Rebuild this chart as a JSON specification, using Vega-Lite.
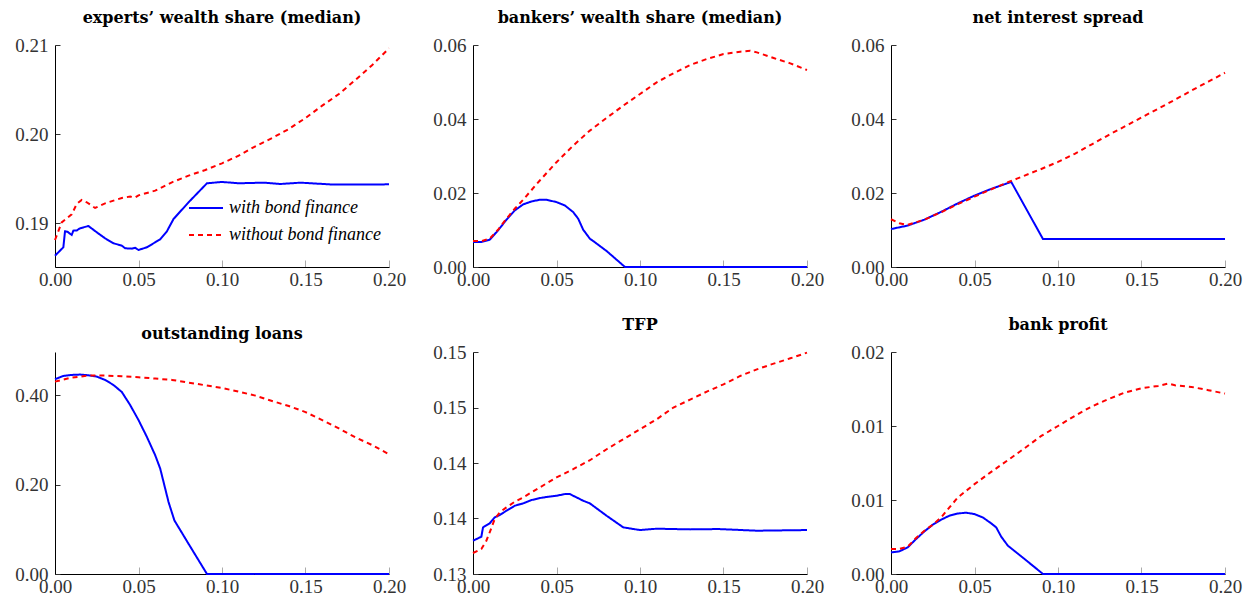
{
  "$schema": "https://vega.github.io/schema/vega-lite/v6.json",
  "padding": {"left": 14, "top": 10, "right": 5, "bottom": 5},
  "background": "white",
  "columns": 3,
  "spacing": {"row": 85, "column": 84},
  "bounds": "flush",
  "resolve": {"scale": {"color": "independent", "strokeDash": "independent"}, "legend": {"color": "independent", "strokeDash": "independent"}},
  "datasets": {
    "p1": [
      {"x": 0, "y": 0.18637, "s": "with bond finance"},
      {"x": 0.005, "y": 0.18731, "s": "with bond finance"},
      {"x": 0.006, "y": 0.1891, "s": "with bond finance"},
      {"x": 0.0075, "y": 0.18905, "s": "with bond finance"},
      {"x": 0.01, "y": 0.18869, "s": "with bond finance"},
      {"x": 0.011, "y": 0.18918, "s": "with bond finance"},
      {"x": 0.013, "y": 0.1892, "s": "with bond finance"},
      {"x": 0.015, "y": 0.18944, "s": "with bond finance"},
      {"x": 0.02, "y": 0.1897, "s": "with bond finance"},
      {"x": 0.025, "y": 0.18899, "s": "with bond finance"},
      {"x": 0.03, "y": 0.18832, "s": "with bond finance"},
      {"x": 0.035, "y": 0.18776, "s": "with bond finance"},
      {"x": 0.04, "y": 0.1875, "s": "with bond finance"},
      {"x": 0.042, "y": 0.1872, "s": "with bond finance"},
      {"x": 0.046, "y": 0.18716, "s": "with bond finance"},
      {"x": 0.048, "y": 0.18725, "s": "with bond finance"},
      {"x": 0.05, "y": 0.18701, "s": "with bond finance"},
      {"x": 0.055, "y": 0.18731, "s": "with bond finance"},
      {"x": 0.06, "y": 0.18787, "s": "with bond finance"},
      {"x": 0.063, "y": 0.1882, "s": "with bond finance"},
      {"x": 0.067, "y": 0.1891, "s": "with bond finance"},
      {"x": 0.071, "y": 0.19049, "s": "with bond finance"},
      {"x": 0.08, "y": 0.19236, "s": "with bond finance"},
      {"x": 0.091, "y": 0.19449, "s": "with bond finance"},
      {"x": 0.1, "y": 0.19464, "s": "with bond finance"},
      {"x": 0.11, "y": 0.19449, "s": "with bond finance"},
      {"x": 0.125, "y": 0.19456, "s": "with bond finance"},
      {"x": 0.135, "y": 0.19441, "s": "with bond finance"},
      {"x": 0.147, "y": 0.19456, "s": "with bond finance"},
      {"x": 0.167, "y": 0.19434, "s": "with bond finance"},
      {"x": 0.2, "y": 0.19437, "s": "with bond finance"},
      {"x": 0, "y": 0.18813, "s": "without bond finance"},
      {"x": 0.004, "y": 0.1901, "s": "without bond finance"},
      {"x": 0.01, "y": 0.191, "s": "without bond finance"},
      {"x": 0.013, "y": 0.19217, "s": "without bond finance"},
      {"x": 0.016, "y": 0.19262, "s": "without bond finance"},
      {"x": 0.019, "y": 0.19236, "s": "without bond finance"},
      {"x": 0.024, "y": 0.19172, "s": "without bond finance"},
      {"x": 0.03, "y": 0.19224, "s": "without bond finance"},
      {"x": 0.04, "y": 0.19284, "s": "without bond finance"},
      {"x": 0.045, "y": 0.193, "s": "without bond finance"},
      {"x": 0.048, "y": 0.1929, "s": "without bond finance"},
      {"x": 0.05, "y": 0.19314, "s": "without bond finance"},
      {"x": 0.06, "y": 0.19366, "s": "without bond finance"},
      {"x": 0.07, "y": 0.1946, "s": "without bond finance"},
      {"x": 0.08, "y": 0.19535, "s": "without bond finance"},
      {"x": 0.09, "y": 0.19598, "s": "without bond finance"},
      {"x": 0.1, "y": 0.19673, "s": "without bond finance"},
      {"x": 0.11, "y": 0.19759, "s": "without bond finance"},
      {"x": 0.12, "y": 0.19864, "s": "without bond finance"},
      {"x": 0.13, "y": 0.19957, "s": "without bond finance"},
      {"x": 0.14, "y": 0.20058, "s": "without bond finance"},
      {"x": 0.15, "y": 0.20181, "s": "without bond finance"},
      {"x": 0.16, "y": 0.2032, "s": "without bond finance"},
      {"x": 0.17, "y": 0.2045, "s": "without bond finance"},
      {"x": 0.18, "y": 0.2061, "s": "without bond finance"},
      {"x": 0.19, "y": 0.20776, "s": "without bond finance"},
      {"x": 0.2, "y": 0.20963, "s": "without bond finance"}
    ],
    "p2": [
      {"x": 0, "y": 0.00674, "s": "with bond finance"},
      {"x": 0.005, "y": 0.00674, "s": "with bond finance"},
      {"x": 0.01, "y": 0.00737, "s": "with bond finance"},
      {"x": 0.015, "y": 0.00989, "s": "with bond finance"},
      {"x": 0.02, "y": 0.01277, "s": "with bond finance"},
      {"x": 0.025, "y": 0.01529, "s": "with bond finance"},
      {"x": 0.03, "y": 0.01691, "s": "with bond finance"},
      {"x": 0.035, "y": 0.01772, "s": "with bond finance"},
      {"x": 0.04, "y": 0.01817, "s": "with bond finance"},
      {"x": 0.044, "y": 0.01817, "s": "with bond finance"},
      {"x": 0.05, "y": 0.01754, "s": "with bond finance"},
      {"x": 0.055, "y": 0.01664, "s": "with bond finance"},
      {"x": 0.06, "y": 0.01484, "s": "with bond finance"},
      {"x": 0.063, "y": 0.01304, "s": "with bond finance"},
      {"x": 0.066, "y": 0.01007, "s": "with bond finance"},
      {"x": 0.07, "y": 0.00764, "s": "with bond finance"},
      {"x": 0.072, "y": 0.00701, "s": "with bond finance"},
      {"x": 0.08, "y": 0.00432, "s": "with bond finance"},
      {"x": 0.091, "y": 0, "s": "with bond finance"},
      {"x": 0.2, "y": 0, "s": "with bond finance"},
      {"x": 0, "y": 0.00701, "s": "without bond finance"},
      {"x": 0.005, "y": 0.007, "s": "without bond finance"},
      {"x": 0.01, "y": 0.00764, "s": "without bond finance"},
      {"x": 0.015, "y": 0.01007, "s": "without bond finance"},
      {"x": 0.02, "y": 0.01304, "s": "without bond finance"},
      {"x": 0.025, "y": 0.01574, "s": "without bond finance"},
      {"x": 0.03, "y": 0.01817, "s": "without bond finance"},
      {"x": 0.04, "y": 0.02338, "s": "without bond finance"},
      {"x": 0.05, "y": 0.02833, "s": "without bond finance"},
      {"x": 0.06, "y": 0.03282, "s": "without bond finance"},
      {"x": 0.07, "y": 0.03687, "s": "without bond finance"},
      {"x": 0.08, "y": 0.04029, "s": "without bond finance"},
      {"x": 0.09, "y": 0.04362, "s": "without bond finance"},
      {"x": 0.1, "y": 0.04676, "s": "without bond finance"},
      {"x": 0.11, "y": 0.04991, "s": "without bond finance"},
      {"x": 0.12, "y": 0.05234, "s": "without bond finance"},
      {"x": 0.13, "y": 0.05459, "s": "without bond finance"},
      {"x": 0.14, "y": 0.05621, "s": "without bond finance"},
      {"x": 0.15, "y": 0.05755, "s": "without bond finance"},
      {"x": 0.16, "y": 0.05818, "s": "without bond finance"},
      {"x": 0.166, "y": 0.05845, "s": "without bond finance"},
      {"x": 0.17, "y": 0.058, "s": "without bond finance"},
      {"x": 0.18, "y": 0.05647, "s": "without bond finance"},
      {"x": 0.19, "y": 0.05504, "s": "without bond finance"},
      {"x": 0.2, "y": 0.05324, "s": "without bond finance"}
    ],
    "p3": [
      {"x": 0, "y": 0.01025, "s": "with bond finance"},
      {"x": 0.01, "y": 0.0112, "s": "with bond finance"},
      {"x": 0.02, "y": 0.0128, "s": "with bond finance"},
      {"x": 0.03, "y": 0.0149, "s": "with bond finance"},
      {"x": 0.04, "y": 0.0172, "s": "with bond finance"},
      {"x": 0.05, "y": 0.0193, "s": "with bond finance"},
      {"x": 0.06, "y": 0.0211, "s": "with bond finance"},
      {"x": 0.072, "y": 0.023, "s": "with bond finance"},
      {"x": 0.091, "y": 0.00755, "s": "with bond finance"},
      {"x": 0.2, "y": 0.00755, "s": "with bond finance"},
      {"x": 0, "y": 0.0129, "s": "without bond finance"},
      {"x": 0.005, "y": 0.0118, "s": "without bond finance"},
      {"x": 0.01, "y": 0.0114, "s": "without bond finance"},
      {"x": 0.02, "y": 0.0128, "s": "without bond finance"},
      {"x": 0.03, "y": 0.0148, "s": "without bond finance"},
      {"x": 0.04, "y": 0.017, "s": "without bond finance"},
      {"x": 0.05, "y": 0.019, "s": "without bond finance"},
      {"x": 0.06, "y": 0.021, "s": "without bond finance"},
      {"x": 0.07, "y": 0.0229, "s": "without bond finance"},
      {"x": 0.08, "y": 0.0247, "s": "without bond finance"},
      {"x": 0.09, "y": 0.0265, "s": "without bond finance"},
      {"x": 0.1, "y": 0.0284, "s": "without bond finance"},
      {"x": 0.11, "y": 0.0306, "s": "without bond finance"},
      {"x": 0.12, "y": 0.0331, "s": "without bond finance"},
      {"x": 0.13, "y": 0.0356, "s": "without bond finance"},
      {"x": 0.14, "y": 0.038, "s": "without bond finance"},
      {"x": 0.15, "y": 0.0404, "s": "without bond finance"},
      {"x": 0.16, "y": 0.0428, "s": "without bond finance"},
      {"x": 0.17, "y": 0.0452, "s": "without bond finance"},
      {"x": 0.18, "y": 0.0477, "s": "without bond finance"},
      {"x": 0.19, "y": 0.0501, "s": "without bond finance"},
      {"x": 0.2, "y": 0.0525, "s": "without bond finance"}
    ],
    "p4": [
      {"x": 0, "y": 0.436, "s": "with bond finance"},
      {"x": 0.005, "y": 0.4434, "s": "with bond finance"},
      {"x": 0.01, "y": 0.4457, "s": "with bond finance"},
      {"x": 0.015, "y": 0.4465, "s": "with bond finance"},
      {"x": 0.02, "y": 0.4449, "s": "with bond finance"},
      {"x": 0.025, "y": 0.4419, "s": "with bond finance"},
      {"x": 0.03, "y": 0.4345, "s": "with bond finance"},
      {"x": 0.035, "y": 0.4232, "s": "with bond finance"},
      {"x": 0.04, "y": 0.4075, "s": "with bond finance"},
      {"x": 0.045, "y": 0.3783, "s": "with bond finance"},
      {"x": 0.05, "y": 0.3446, "s": "with bond finance"},
      {"x": 0.055, "y": 0.3071, "s": "with bond finance"},
      {"x": 0.06, "y": 0.2659, "s": "with bond finance"},
      {"x": 0.063, "y": 0.236, "s": "with bond finance"},
      {"x": 0.066, "y": 0.191, "s": "with bond finance"},
      {"x": 0.068, "y": 0.161, "s": "with bond finance"},
      {"x": 0.0715, "y": 0.1199, "s": "with bond finance"},
      {"x": 0.08, "y": 0.0674, "s": "with bond finance"},
      {"x": 0.091, "y": 0, "s": "with bond finance"},
      {"x": 0.2, "y": 0, "s": "with bond finance"},
      {"x": 0, "y": 0.4307, "s": "without bond finance"},
      {"x": 0.01, "y": 0.4397, "s": "without bond finance"},
      {"x": 0.02, "y": 0.4442, "s": "without bond finance"},
      {"x": 0.03, "y": 0.4442, "s": "without bond finance"},
      {"x": 0.04, "y": 0.4427, "s": "without bond finance"},
      {"x": 0.05, "y": 0.4404, "s": "without bond finance"},
      {"x": 0.06, "y": 0.4375, "s": "without bond finance"},
      {"x": 0.07, "y": 0.4345, "s": "without bond finance"},
      {"x": 0.08, "y": 0.4285, "s": "without bond finance"},
      {"x": 0.09, "y": 0.4225, "s": "without bond finance"},
      {"x": 0.1, "y": 0.4165, "s": "without bond finance"},
      {"x": 0.11, "y": 0.4082, "s": "without bond finance"},
      {"x": 0.12, "y": 0.3993, "s": "without bond finance"},
      {"x": 0.13, "y": 0.3873, "s": "without bond finance"},
      {"x": 0.14, "y": 0.376, "s": "without bond finance"},
      {"x": 0.15, "y": 0.3625, "s": "without bond finance"},
      {"x": 0.16, "y": 0.3446, "s": "without bond finance"},
      {"x": 0.17, "y": 0.3258, "s": "without bond finance"},
      {"x": 0.18, "y": 0.3056, "s": "without bond finance"},
      {"x": 0.19, "y": 0.2884, "s": "without bond finance"},
      {"x": 0.2, "y": 0.2682, "s": "without bond finance"}
    ],
    "p5": [
      {"x": 0, "y": 0.133, "s": "with bond finance"},
      {"x": 0.005, "y": 0.13336, "s": "with bond finance"},
      {"x": 0.006, "y": 0.1342, "s": "with bond finance"},
      {"x": 0.01, "y": 0.13456, "s": "with bond finance"},
      {"x": 0.013, "y": 0.1351, "s": "with bond finance"},
      {"x": 0.016, "y": 0.13531, "s": "with bond finance"},
      {"x": 0.02, "y": 0.1357, "s": "with bond finance"},
      {"x": 0.025, "y": 0.13615, "s": "with bond finance"},
      {"x": 0.03, "y": 0.13636, "s": "with bond finance"},
      {"x": 0.035, "y": 0.13666, "s": "with bond finance"},
      {"x": 0.04, "y": 0.13684, "s": "with bond finance"},
      {"x": 0.045, "y": 0.13696, "s": "with bond finance"},
      {"x": 0.05, "y": 0.13705, "s": "with bond finance"},
      {"x": 0.055, "y": 0.1372, "s": "with bond finance"},
      {"x": 0.058, "y": 0.1372, "s": "with bond finance"},
      {"x": 0.062, "y": 0.1369, "s": "with bond finance"},
      {"x": 0.066, "y": 0.1366, "s": "with bond finance"},
      {"x": 0.07, "y": 0.13636, "s": "with bond finance"},
      {"x": 0.08, "y": 0.13525, "s": "with bond finance"},
      {"x": 0.09, "y": 0.1342, "s": "with bond finance"},
      {"x": 0.1, "y": 0.13396, "s": "with bond finance"},
      {"x": 0.11, "y": 0.13408, "s": "with bond finance"},
      {"x": 0.13, "y": 0.13402, "s": "with bond finance"},
      {"x": 0.147, "y": 0.13405, "s": "with bond finance"},
      {"x": 0.17, "y": 0.1339, "s": "with bond finance"},
      {"x": 0.2, "y": 0.13396, "s": "with bond finance"},
      {"x": 0, "y": 0.13189, "s": "without bond finance"},
      {"x": 0.005, "y": 0.13225, "s": "without bond finance"},
      {"x": 0.008, "y": 0.133, "s": "without bond finance"},
      {"x": 0.01, "y": 0.13375, "s": "without bond finance"},
      {"x": 0.013, "y": 0.13495, "s": "without bond finance"},
      {"x": 0.016, "y": 0.13555, "s": "without bond finance"},
      {"x": 0.02, "y": 0.136, "s": "without bond finance"},
      {"x": 0.025, "y": 0.13651, "s": "without bond finance"},
      {"x": 0.03, "y": 0.1369, "s": "without bond finance"},
      {"x": 0.035, "y": 0.13735, "s": "without bond finance"},
      {"x": 0.04, "y": 0.1378, "s": "without bond finance"},
      {"x": 0.045, "y": 0.13825, "s": "without bond finance"},
      {"x": 0.05, "y": 0.1387, "s": "without bond finance"},
      {"x": 0.06, "y": 0.13945, "s": "without bond finance"},
      {"x": 0.07, "y": 0.14025, "s": "without bond finance"},
      {"x": 0.08, "y": 0.14124, "s": "without bond finance"},
      {"x": 0.09, "y": 0.14214, "s": "without bond finance"},
      {"x": 0.1, "y": 0.14304, "s": "without bond finance"},
      {"x": 0.11, "y": 0.14394, "s": "without bond finance"},
      {"x": 0.12, "y": 0.145, "s": "without bond finance"},
      {"x": 0.13, "y": 0.14571, "s": "without bond finance"},
      {"x": 0.14, "y": 0.14643, "s": "without bond finance"},
      {"x": 0.15, "y": 0.14709, "s": "without bond finance"},
      {"x": 0.16, "y": 0.14784, "s": "without bond finance"},
      {"x": 0.17, "y": 0.14844, "s": "without bond finance"},
      {"x": 0.18, "y": 0.14895, "s": "without bond finance"},
      {"x": 0.19, "y": 0.14943, "s": "without bond finance"},
      {"x": 0.2, "y": 0.14994, "s": "without bond finance"}
    ],
    "p6": [
      {"x": 0, "y": 0.00146, "s": "with bond finance"},
      {"x": 0.005, "y": 0.00153, "s": "with bond finance"},
      {"x": 0.01, "y": 0.0018, "s": "with bond finance"},
      {"x": 0.015, "y": 0.00236, "s": "with bond finance"},
      {"x": 0.02, "y": 0.00288, "s": "with bond finance"},
      {"x": 0.025, "y": 0.00333, "s": "with bond finance"},
      {"x": 0.03, "y": 0.00367, "s": "with bond finance"},
      {"x": 0.035, "y": 0.00394, "s": "with bond finance"},
      {"x": 0.04, "y": 0.00409, "s": "with bond finance"},
      {"x": 0.045, "y": 0.00414, "s": "with bond finance"},
      {"x": 0.05, "y": 0.00405, "s": "with bond finance"},
      {"x": 0.055, "y": 0.00382, "s": "with bond finance"},
      {"x": 0.06, "y": 0.00342, "s": "with bond finance"},
      {"x": 0.063, "y": 0.00315, "s": "with bond finance"},
      {"x": 0.066, "y": 0.00252, "s": "with bond finance"},
      {"x": 0.07, "y": 0.00191, "s": "with bond finance"},
      {"x": 0.08, "y": 0.00101, "s": "with bond finance"},
      {"x": 0.091, "y": 0, "s": "with bond finance"},
      {"x": 0.2, "y": 0, "s": "with bond finance"},
      {"x": 0, "y": 0.00169, "s": "without bond finance"},
      {"x": 0.005, "y": 0.00169, "s": "without bond finance"},
      {"x": 0.01, "y": 0.00184, "s": "without bond finance"},
      {"x": 0.015, "y": 0.00243, "s": "without bond finance"},
      {"x": 0.02, "y": 0.00292, "s": "without bond finance"},
      {"x": 0.025, "y": 0.00333, "s": "without bond finance"},
      {"x": 0.03, "y": 0.00382, "s": "without bond finance"},
      {"x": 0.035, "y": 0.0045, "s": "without bond finance"},
      {"x": 0.04, "y": 0.00517, "s": "without bond finance"},
      {"x": 0.045, "y": 0.00562, "s": "without bond finance"},
      {"x": 0.05, "y": 0.00607, "s": "without bond finance"},
      {"x": 0.06, "y": 0.0069, "s": "without bond finance"},
      {"x": 0.07, "y": 0.00769, "s": "without bond finance"},
      {"x": 0.08, "y": 0.0085, "s": "without bond finance"},
      {"x": 0.09, "y": 0.00933, "s": "without bond finance"},
      {"x": 0.1, "y": 0.01, "s": "without bond finance"},
      {"x": 0.11, "y": 0.01068, "s": "without bond finance"},
      {"x": 0.12, "y": 0.01131, "s": "without bond finance"},
      {"x": 0.13, "y": 0.01181, "s": "without bond finance"},
      {"x": 0.14, "y": 0.01226, "s": "without bond finance"},
      {"x": 0.15, "y": 0.01255, "s": "without bond finance"},
      {"x": 0.16, "y": 0.01271, "s": "without bond finance"},
      {"x": 0.166, "y": 0.01287, "s": "without bond finance"},
      {"x": 0.17, "y": 0.01275, "s": "without bond finance"},
      {"x": 0.18, "y": 0.01264, "s": "without bond finance"},
      {"x": 0.19, "y": 0.01242, "s": "without bond finance"},
      {"x": 0.2, "y": 0.01219, "s": "without bond finance"}
    ]
  },
  "concat": [
    {
      "title": "experts’ wealth share (median)",
      "width": 334, "height": 222,
      "data": {"name": "p1"},
      "mark": {"type": "line", "strokeWidth": 2},
      "encoding": {
        "x": {"field": "x", "type": "quantitative", "scale": {"domain": [0, 0.2], "nice": false}, "axis": {"values": [0, 0.05, 0.1, 0.15, 0.2]}},
        "y": {"field": "y", "type": "quantitative", "scale": {"domain": [0.1851, 0.21], "zero": false, "nice": false}, "axis": {"values": [0.19, 0.2, 0.21]}},
        "color": {"field": "s", "type": "nominal", "scale": {"domain": ["with bond finance", "without bond finance"], "range": ["#0000ff", "#ff0000"]},
          "legend": {"orient": "none", "legendX": 133, "legendY": 145, "title": null, "symbolType": "stroke", "symbolSize": 1156, "symbolStrokeWidth": 2, "labelFont": "Liberation Serif", "labelFontStyle": "italic", "labelFontSize": 18, "labelColor": "#000", "rowPadding": -8, "labelOffset": 5}},
        "strokeDash": {"field": "s", "type": "nominal", "scale": {"domain": ["with bond finance", "without bond finance"], "range": [[1, 0], [5, 4]]},
          "legend": {"orient": "none", "legendX": 133, "legendY": 145, "title": null, "symbolType": "stroke", "symbolSize": 1156, "symbolStrokeWidth": 2, "labelFont": "Liberation Serif", "labelFontStyle": "italic", "labelFontSize": 18, "labelColor": "#000", "rowPadding": -8, "labelOffset": 5}}
      }
    },
    {
      "title": "bankers’ wealth share (median)",
      "width": 334, "height": 222,
      "data": {"name": "p2"},
      "mark": {"type": "line", "strokeWidth": 2},
      "encoding": {
        "x": {"field": "x", "type": "quantitative", "scale": {"domain": [0, 0.2], "nice": false}, "axis": {"values": [0, 0.05, 0.1, 0.15, 0.2]}},
        "y": {"field": "y", "type": "quantitative", "scale": {"domain": [0, 0.06], "nice": false}, "axis": {"values": [0, 0.02, 0.04, 0.06]}},
        "color": {"field": "s", "type": "nominal", "scale": {"domain": ["with bond finance", "without bond finance"], "range": ["#0000ff", "#ff0000"]}, "legend": null},
        "strokeDash": {"field": "s", "type": "nominal", "scale": {"domain": ["with bond finance", "without bond finance"], "range": [[1, 0], [5, 4]]}, "legend": null}
      }
    },
    {
      "title": "net interest spread",
      "width": 334, "height": 222,
      "data": {"name": "p3"},
      "mark": {"type": "line", "strokeWidth": 2},
      "encoding": {
        "x": {"field": "x", "type": "quantitative", "scale": {"domain": [0, 0.2], "nice": false}, "axis": {"values": [0, 0.05, 0.1, 0.15, 0.2]}},
        "y": {"field": "y", "type": "quantitative", "scale": {"domain": [0, 0.06], "nice": false}, "axis": {"values": [0, 0.02, 0.04, 0.06]}},
        "color": {"field": "s", "type": "nominal", "scale": {"domain": ["with bond finance", "without bond finance"], "range": ["#0000ff", "#ff0000"]}, "legend": null},
        "strokeDash": {"field": "s", "type": "nominal", "scale": {"domain": ["with bond finance", "without bond finance"], "range": [[1, 0], [5, 4]]}, "legend": null}
      }
    },
    {
      "title": "outstanding loans",
      "width": 334, "height": 222,
      "data": {"name": "p4"},
      "mark": {"type": "line", "strokeWidth": 2},
      "encoding": {
        "x": {"field": "x", "type": "quantitative", "scale": {"domain": [0, 0.2], "nice": false}, "axis": {"values": [0, 0.05, 0.1, 0.15, 0.2]}},
        "y": {"field": "y", "type": "quantitative", "scale": {"domain": [0, 0.497], "nice": false}, "axis": {"values": [0, 0.2, 0.4]}},
        "color": {"field": "s", "type": "nominal", "scale": {"domain": ["with bond finance", "without bond finance"], "range": ["#0000ff", "#ff0000"]}, "legend": null},
        "strokeDash": {"field": "s", "type": "nominal", "scale": {"domain": ["with bond finance", "without bond finance"], "range": [[1, 0], [5, 4]]}, "legend": null}
      }
    },
    {
      "title": "TFP",
      "width": 334, "height": 222,
      "data": {"name": "p5"},
      "mark": {"type": "line", "strokeWidth": 2},
      "encoding": {
        "x": {"field": "x", "type": "quantitative", "scale": {"domain": [0, 0.2], "nice": false}, "axis": {"values": [0, 0.05, 0.1, 0.15, 0.2]}},
        "y": {"field": "y", "type": "quantitative", "scale": {"domain": [0.13, 0.15], "zero": false, "nice": false}, "axis": {"values": [0.13, 0.135, 0.14, 0.145, 0.15]}},
        "color": {"field": "s", "type": "nominal", "scale": {"domain": ["with bond finance", "without bond finance"], "range": ["#0000ff", "#ff0000"]}, "legend": null},
        "strokeDash": {"field": "s", "type": "nominal", "scale": {"domain": ["with bond finance", "without bond finance"], "range": [[1, 0], [5, 4]]}, "legend": null}
      }
    },
    {
      "title": "bank profit",
      "width": 334, "height": 222,
      "data": {"name": "p6"},
      "mark": {"type": "line", "strokeWidth": 2},
      "encoding": {
        "x": {"field": "x", "type": "quantitative", "scale": {"domain": [0, 0.2], "nice": false}, "axis": {"values": [0, 0.05, 0.1, 0.15, 0.2]}},
        "y": {"field": "y", "type": "quantitative", "scale": {"domain": [0, 0.015], "nice": false}, "axis": {"values": [0, 0.005, 0.01, 0.015]}},
        "color": {"field": "s", "type": "nominal", "scale": {"domain": ["with bond finance", "without bond finance"], "range": ["#0000ff", "#ff0000"]}, "legend": null},
        "strokeDash": {"field": "s", "type": "nominal", "scale": {"domain": ["with bond finance", "without bond finance"], "range": [[1, 0], [5, 4]]}, "legend": null}
      }
    }
  ],
  "config": {
    "font": "Liberation Serif",
    "view": {"stroke": null},
    "axis": {"grid": false, "title": null, "domainColor": "#000", "domainWidth": 1, "labelFont": "Liberation Serif", "labelFontSize": 19, "labelColor": "#333", "labelFlush": false, "labelOverlap": false, "labelExpr": "format(datum.value + 1e-9, '.2f')"},
    "axisX": {"tickSize": -7, "tickColor": "#aaa", "labelPadding": 10},
    "axisY": {"tickSize": -5, "tickColor": "#333", "labelPadding": 12},
    "title": {"font": "DejaVu Serif", "fontSize": 16, "fontWeight": "bold", "color": "#000", "offset": 10}
  }
}
